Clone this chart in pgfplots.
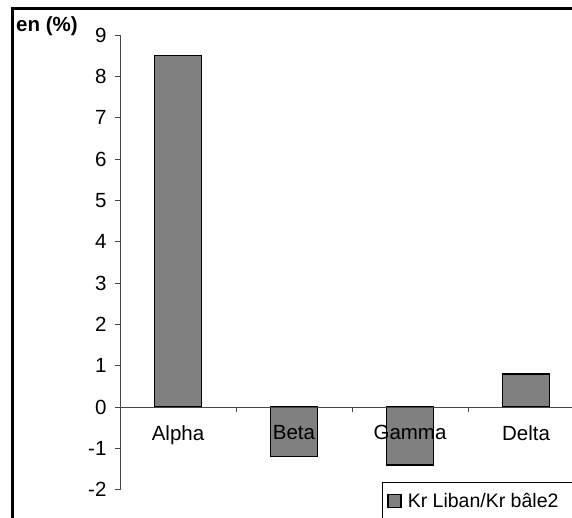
\documentclass[border=0pt]{standalone}
\usepackage{pgfplots}
\pgfplotsset{compat=1.18}
\usepackage{fontspec}
\setmainfont{Liberation Sans}

\definecolor{barfill}{RGB}{128,128,128}
\definecolor{axisgray}{RGB}{70,70,70}

\begin{document}
\begin{tikzpicture}[x=1pt,y=1pt]
  \useasboundingbox (0,0) rectangle (572,518);
  \clip (0,0) rectangle (572,518);

  % chart area frame (top and left edges)
  \draw[line width=2.2pt] (12.5,-10) -- (12.5,509.5) -- (600,509.5);

  \begin{axis}[
    at={(120pt,28.3pt)}, anchor=south west,
    scale only axis,
    width=464pt, height=454.7pt,
    xmin=-0.5, xmax=3.5,
    ymin=-2, ymax=9,
    axis on top,
    axis x line=middle,
    axis y line=left,
    axis line style={-, axisgray, line width=0.8pt},
    every tick/.style={axisgray, line width=0.8pt},
    ytick={-2,-1,0,1,2,3,4,5,6,7,8,9},
    ytick align=outside,
    major tick length=5pt,
    xtick={0.5,1.5,2.5},
    xticklabels={},
    xtick align=outside,
    extra x ticks={0,1,2,3},
    extra x tick labels={Alpha,Beta,Gamma,Delta},
    extra x tick style={major tick length=0pt,
      xticklabel style={yshift=-15pt}},
    tick label style={font=\fontsize{20.5}{24}\selectfont},
    /pgf/number format/assume math mode=true,
    yticklabel style={xshift=-5pt},
    legend style={
      draw=none, fill=none,
      at={(387pt-120pt,-11.5pt)}, anchor=west,
      font=\fontsize{19.5}{23}\selectfont,
      inner sep=0pt, column sep=6pt,
      nodes={inner sep=0pt},
    },
    legend image code/.code={
      \draw[#1] (0pt,-6.5pt) rectangle (13pt,6.5pt);
    },
    clip=false,
  ]
    \addplot[ybar, bar width=47pt, fill=barfill, draw=black, line width=1.6pt]
      coordinates {(0,8.5) (1,-1.2) (2,-1.4) (3,0.8)};
    \addlegendentry{Kr Liban/Kr bâle2}
  \end{axis}

  % legend frame (top and left edges)
  \draw[line width=0.9pt] (382,-10) -- (382,36) -- (600,36);

  % value axis title
  \node[anchor=base west, inner sep=0pt, font=\fontsize{20.5}{24}\selectfont\bfseries]
    at (16,486) {en (\%)};
\end{tikzpicture}
\end{document}
